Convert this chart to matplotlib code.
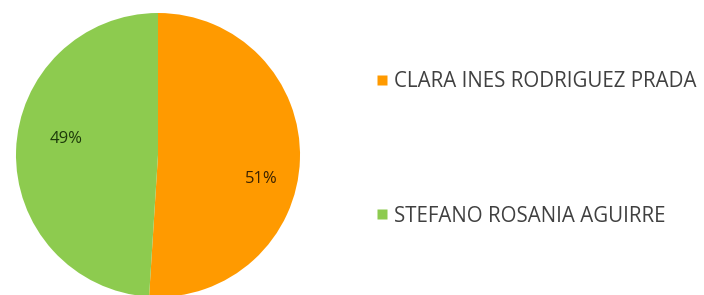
import matplotlib.pyplot as plt
from matplotlib.lines import Line2D
import numpy as np

# candidates and vote share
names = ['CLARA INES RODRIGUEZ PRADA', 'STEFANO ROSANIA AGUIRRE']
shares = [51, 49]
colors = ['#FF9A00', '#8DCB4F']
text_colors = ['#3a2200', '#1d3a0a']

fig = plt.figure(figsize=(7.04, 2.95), dpi=100)
ax = fig.add_axes([16 / 704, -2 / 295, 284 / 704, 284 / 295])

wedges, texts, autotexts = ax.pie(shares, colors=colors, startangle=90, counterclock=False,
                                  autopct='%1.0f%%', pctdistance=0.7,
                                  wedgeprops=dict(linewidth=0))
# Excel puts the labels a bit off the middle angle
label_spots = [(-13, 0.75), (170, 0.66)]
for t, c, (ang, r) in zip(autotexts, text_colors, label_spots):
    a = np.deg2rad(ang)
    t.set_position((r * np.cos(a), r * np.sin(a)))
    t.set_color(c)
    t.set_fontsize(12)
    t.set_family('Open Sans')
ax.set_xlim(-1, 1)
ax.set_ylim(-1, 1)
ax.set_aspect('equal')

handles = [Line2D([], [], marker='s', linestyle='none', markersize=7,
                  markerfacecolor=c, markeredgecolor='none') for c in colors]
leg = fig.legend(handles, names, loc='center left', bbox_to_anchor=(352 / 704, 0.495),
                 frameon=False, labelspacing=5.5, handletextpad=0.05, handlelength=1.1,
                 prop={'family': 'Open Sans', 'size': 14.8})
for t in leg.get_texts():
    t.set_color('#404040')

fig.savefig('out.png', dpi=100)
